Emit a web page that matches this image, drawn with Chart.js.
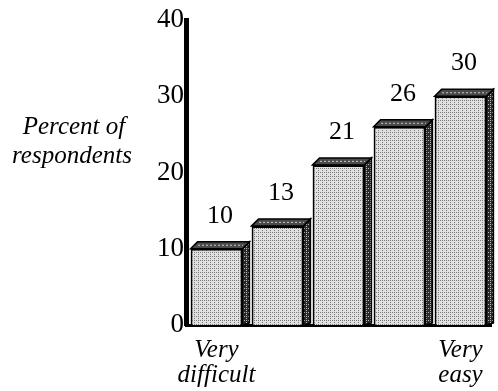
<!DOCTYPE html>
<html>
<head>
<meta charset="utf-8">
<script src="https://cdn.jsdelivr.net/npm/chart.js@4"></script>
<style>
  html, body { margin: 0; padding: 0; background: #fff; }
  #wrap { width: 498px; height: 391px; }
</style>
</head>
<body>
<div id="wrap"><canvas id="chart" width="498" height="391"></canvas></div>
<script>
// values
var categories = [['Very', 'difficult'], '', '', '', ['Very', 'easy']];
var percents = [10, 13, 21, 26, 30];
var yTicks = [0, 10, 20, 30, 40];
var yTitle = ['Percent of', 'respondents'];

var serif = '"Liberation Serif", "DejaVu Serif", serif';
var depth = 7;

// stippled grey like the print
function stipple(bg, dot) {
  var c = document.createElement('canvas');
  c.width = 4; c.height = 4;
  var g = c.getContext('2d');
  g.fillStyle = bg;
  g.fillRect(0, 0, 4, 4);
  g.fillStyle = dot;
  g.fillRect(0, 0, 1, 1);
  g.fillRect(2, 2, 1, 1);
  g.fillRect(2, 0, 1, 1);
  return g.createPattern(c, 'repeat');
}

var ctx = document.getElementById('chart').getContext('2d');
var facePattern = stipple('#e0e0e0', '#7a7a7a');
var sidePattern = stipple('#2a2a2a', '#bbbbbb');

var boxes3d = {
  id: 'boxes3d',
  afterDatasetsDraw: function (chart) {
    var c = chart.ctx;
    var meta = chart.getDatasetMeta(0);
    c.save();
    meta.data.forEach(function (bar, i) {
      var p = bar.getProps(['x', 'y', 'base', 'width'], true);
      var l = p.x - p.width / 2, r = p.x + p.width / 2;
      c.lineWidth = 1.5;
      c.strokeStyle = '#000';
      // right side
      c.beginPath();
      c.moveTo(r, p.y);
      c.lineTo(r + depth, p.y - depth);
      c.lineTo(r + depth, p.base - 2);
      c.lineTo(r, p.base);
      c.closePath();
      c.fillStyle = sidePattern;
      c.fill();
      c.stroke();
      // top
      c.beginPath();
      c.moveTo(l, p.y);
      c.lineTo(l + depth, p.y - depth);
      c.lineTo(r + depth, p.y - depth);
      c.lineTo(r, p.y);
      c.closePath();
      c.fillStyle = '#4a4a4a';
      c.fill();
      c.stroke();
      // light dashes on the top face
      c.beginPath();
      c.setLineDash([2, 2]);
      c.strokeStyle = '#cfcfcf';
      c.lineWidth = 1;
      c.moveTo(l + depth / 2 + 4, p.y - depth / 2);
      c.lineTo(r + depth / 2 - 3, p.y - depth / 2);
      c.stroke();
      c.setLineDash([]);
      // value label
      c.fillStyle = '#000';
      c.font = '26px ' + serif;
      c.textAlign = 'center';
      c.textBaseline = 'middle';
      c.fillText(String(percents[i]), p.x + depth / 2, p.y - 33);
    });
    // axis title, set horizontally on the left
    c.font = 'italic 25px ' + serif;
    c.textAlign = 'center';
    c.fillText(yTitle[0], 74, 127);
    c.fillText(yTitle[1], 72, 156);
    c.restore();
  }
};

new Chart(ctx, {
  type: 'bar',
  data: {
    labels: categories,
    datasets: [{
      data: percents,
      backgroundColor: facePattern,
      borderColor: '#000',
      borderWidth: 2,
      barPercentage: 0.85,
      categoryPercentage: 1
    }]
  },
  options: {
    responsive: false,
    animation: false,
    events: [],
    layout: { padding: { top: 20, right: 7, left: 0, bottom: 0 } },
    plugins: {
      legend: { display: false },
      tooltip: { enabled: false }
    },
    scales: {
      x: {
        grid: { display: false },
        border: { display: true, color: '#000', width: 3 },
        ticks: {
          color: '#000',
          padding: 5,
          maxRotation: 0,
          autoSkip: false,
          font: { family: serif, size: 25, style: 'italic', lineHeight: 1.0 }
        },
        afterFit: function (scale) { scale.height = 66; }
      },
      y: {
        min: 0,
        max: 40,
        grid: { display: false, drawTicks: false },
        border: { display: true, color: '#000', width: 5 },
        afterBuildTicks: function (scale) {
          scale.ticks = yTicks.map(function (v) { return { value: v }; });
        },
        ticks: {
          color: '#000',
          padding: 2,
          font: { family: serif, size: 27 }
        },
        afterFit: function (scale) { scale.width = 186; }
      }
    }
  },
  plugins: [boxes3d]
});
</script>
</body>
</html>
